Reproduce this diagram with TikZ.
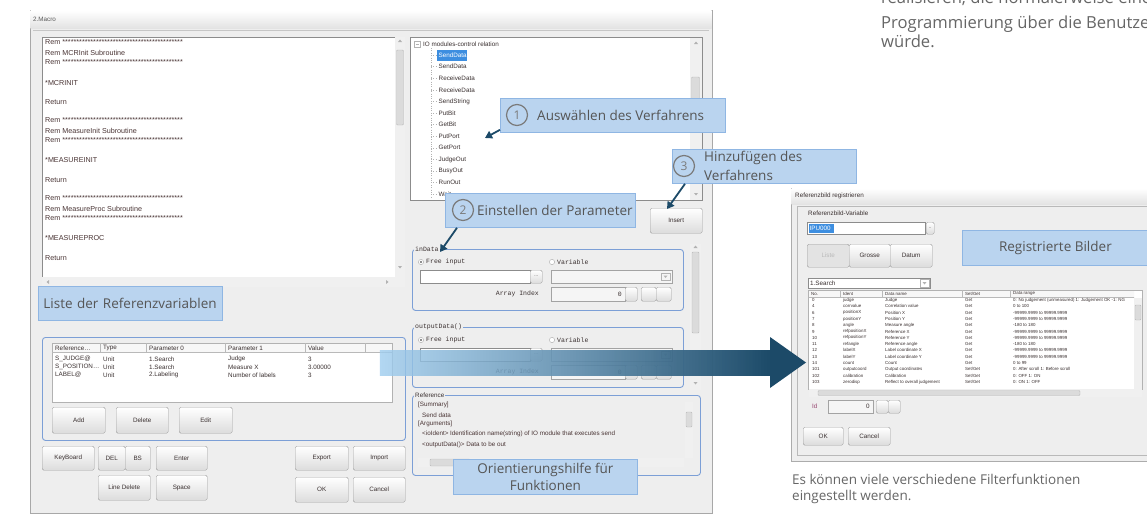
\documentclass[tikz,border=0pt]{standalone}
\usepackage{fontspec}
\setmainfont{Open Sans}
\newfontfamily\uifont{Liberation Sans}
\newfontfamily\uimono{Liberation Mono}
\usetikzlibrary{arrows.meta,fadings,calc}

\definecolor{winbg}{HTML}{EEEEEE}
\definecolor{winedge}{HTML}{A8A8A8}
\definecolor{callfill}{HTML}{BAD4EF}
\definecolor{calledge}{HTML}{8FB6E3}
\definecolor{calltext}{HTML}{555555}
\definecolor{ringcol}{HTML}{7A7A7A}
\definecolor{arrowdark}{HTML}{1C4A68}
\definecolor{bandlight}{HTML}{9FCDEF}
\definecolor{bandmid}{HTML}{4F82A8}
\definecolor{grpedge}{HTML}{7C9FD6}
\definecolor{btnedge}{HTML}{9E9E9E}
\definecolor{btnbot}{HTML}{DCDCDC}
\definecolor{fieldedge}{HTML}{8C8C8C}
\definecolor{uitext}{HTML}{3A3030}
\definecolor{codetext}{HTML}{4A3535}
\definecolor{selblue}{HTML}{3D8EE0}
\definecolor{captext}{HTML}{666666}

\newcommand\callsize{\fontsize{13.5}{17}\selectfont}
\newcommand\uis{\uifont\fontsize{6.3}{7}\selectfont}
\newcommand\uic{\uifont\fontsize{7.2}{8}\selectfont}
\newcommand\uim{\uimono\fontsize{6.5}{7}\selectfont}
\newcommand\uit{\uifont\fontsize{4.4}{5}\selectfont}
\newcommand\starrow{*******************************************}

\tikzfading[name=bandfade, left color=transparent!20, right color=transparent!0]

\begin{document}
\begin{tikzpicture}[x=1pt,y=-1pt,
  sz/.style 2 args={minimum width=#1, minimum height=#2},
  box/.style={anchor=north west, inner sep=0pt},
  callout/.style={box, draw=calledge, fill=callfill, line width=0.8pt, text=calltext, font=\callsize},
  calltxt/.style={text=calltext, font=\callsize, inner sep=0pt},
  numring/.style={circle, draw=ringcol, line width=1.2pt, minimum size=21pt, inner sep=0pt, text=ringcol, font=\fontsize{12}{12}\selectfont},
  pointer/.style={draw=arrowdark, line width=1.8pt, -{Triangle[length=7pt,width=8pt]}},
  btn/.style={box, draw=btnedge, rounded corners=1.5pt, top color=white, bottom color=btnbot, font=\uis, text=uitext},
  grp/.style={box, draw=grpedge, rounded corners=3pt, line width=0.9pt},
  grplabel/.style={anchor=west, fill=winbg, inner sep=1pt, font=\uim, text=uitext},
  field/.style={box, draw=fieldedge, fill=white},
  dfield/.style={box, draw=fieldedge!80, fill=gray!8},
  ui/.style={anchor=west, inner sep=0pt, font=\uis, text=uitext},
  codeline/.style={anchor=west, inner sep=0pt, font=\uic, text=codetext},
  mono/.style={anchor=west, inner sep=0pt, font=\uim, text=uitext},
  tinytext/.style={anchor=west, inner sep=0pt, font=\uit, text=uitext},
  scrolltrack/.style={fill=gray!12},
  thumb/.style={fill=gray!28, draw=gray!55, rounded corners=1pt},
]
\useasboundingbox (0,0) rectangle (1147,514);
\fill[white] (0,0) rectangle (1147,514);
\begin{scope}
\clip (0,0) rectangle (1147,514);

% ---------- running text, top right ----------
\begin{scope}[every node/.style={anchor=base west, inner sep=0pt, text=captext, font=\fontsize{16.6}{19}\selectfont}]
\node (intro1) at (881,4) {realisieren, die normalerweise eine};
\node (intro2) at (881,28) {Programmierung über die Benutzeroberfläche};
\node (intro3) at (881,47) {würde.};
\end{scope}

% ---------- macro editor window ----------
\node[box, draw=winedge, fill=winbg, sz={682}{503}] (win) at (30,10) {};
\shade[top color=white, bottom color=gray!22] (30.5,10.5) rectangle (711.5,28);
\node[ui, text=gray!70!black] (wtitle) at (33,19) {2.Macro};
\draw[gray!45] (33,30) -- (709,30);

% code listing
\node[field, sz={353}{240}] (code) at (42,37) {};
\foreach \yy/\ctxt in {42/Rem \starrow, 53/Rem MCRInit Subroutine, 62/Rem \starrow,
    83/*MCRINIT, 102/Return, 120/Rem \starrow, 131/Rem MeasureInit Subroutine,
    140/Rem \starrow, 160/*MEASUREINIT, 180/Return, 198/Rem \starrow,
    209/Rem MeasureProc Subroutine, 218/Rem \starrow, 238/*MEASUREPROC, 258/Return}
  \node[codeline] at (45,\yy) {\ctxt};
\fill[scrolltrack] (395,37) rectangle (405,287);
\draw[thumb] (396.5,50) rectangle (403.5,125);
\fill[gray!60] (398,42) -- (402,42) -- (400,39.5) -- cycle;
\fill[gray!60] (398,266) -- (402,266) -- (400,268.5) -- cycle;
\fill[scrolltrack] (42,277) rectangle (395,287);
\fill[gray!60] (49,280) -- (49,284) -- (46.5,282) -- cycle;
\fill[gray!60] (386,280) -- (386,284) -- (388.5,282) -- cycle;

% reference variable table
\node[grp, sz={363}{103}] (refgrp) at (42,337) {};
\node[field, draw=gray!60, sz={340}{59}] (reftab) at (52,343) {};
\fill[gray!6] (52.5,343.5) rectangle (391.5,352);
\draw[gray!55] (52,352) -- (392,352);
\foreach \xx in {100,146,225,305,365} \draw[gray!55] (\xx,343) -- (\xx,352);
\node[ui] (h1) at (55,348) {Reference\ldots};
\node[ui] (h2) at (103,348) {Type};
\node[ui] (h3) at (149,348) {Parameter 0};
\node[ui] (h4) at (228,348) {Parameter 1};
\node[ui] (h5) at (308,348) {Value};
\node[ui] (ra1) at (55,359) {S\_JUDGE@};
\node[ui] (rb1) at (103,359) {Unit};
\node[ui] (rc1) at (149,359) {1.Search};
\node[ui] (rd1) at (228,359) {Judge};
\node[ui] (re1) at (308,359) {3};
\node[ui] (ra2) at (55,367) {S\_POSITION\ldots};
\node[ui] (rb2) at (103,367) {Unit};
\node[ui] (rc2) at (149,367) {1.Search};
\node[ui] (rd2) at (228,367) {Measure X};
\node[ui] (re2) at (308,367) {3.00000};
\node[ui] (ra3) at (55,375) {LABEL@};
\node[ui] (rb3) at (103,375) {Unit};
\node[ui] (rc3) at (149,375) {2.Labeling};
\node[ui] (rd3) at (228,375) {Number of labels};
\node[ui] (re3) at (308,375) {3};
\node[btn, sz={53}{26}] (add) at (52,407) {Add};
\node[btn, sz={52}{26}] (del) at (116,407) {Delete};
\node[btn, sz={53}{26}] (edit) at (179,407) {Edit};

% keyboard and dialog buttons
\node[btn, sz={52}{24}] (kbd) at (42,446) {KeyBoard};
\node[btn, sz={27}{24}] (delkey) at (98,446) {DEL};
\node[btn, sz={25}{24}] (bskey) at (125,446) {BS};
\node[btn, sz={51}{24}] (enter) at (156,446) {Enter};
\node[btn, sz={53}{24}] (export) at (295,446) {Export};
\node[btn, sz={52}{24}] (import) at (353,446) {Import};
\node[btn, sz={52}{25}] (linedel) at (98,475) {Line Delete};
\node[btn, sz={51}{25}] (space) at (156,475) {Space};
\node[btn, sz={53}{25}] (ok) at (295,477) {OK};
\node[btn, sz={52}{25}] (cancel) at (353,477) {Cancel};

% function tree
\node[field, sz={292}{163}] (tree) at (410,37) {};
\fill[scrolltrack] (690,37.5) rectangle (701.5,199.5);
\draw[thumb] (691.5,77) rectangle (699.5,110);
\fill[gray!60] (694,44) -- (698,44) -- (696,41.5) -- cycle;
\fill[gray!60] (694,193) -- (698,193) -- (696,195.5) -- cycle;
\draw[gray!60, fill=white] (414,41) rectangle (420,47);
\draw[gray!60] (415.5,44) -- (418.5,44);
\node[ui] (root) at (423,44) {IO modules-control relation};
\draw[gray!60, dotted] (431,48) -- (431,199);
\fill[selblue] (437,49.5) rectangle (467,60.5);
\draw[gray!60, dotted] (431,55) -- (436,55);
\node[ui, text=white] (item1) at (438.5,55) {SendData};
\foreach \itm [count=\i from 2] in {SendData,ReceiveData,ReceiveData,SendString,PutBit,GetBit,PutPort,GetPort,JudgeOut,BusyOut,RunOut,Wait} {
  \pgfmathsetmacro\yy{55+(\i-1)*11.6}
  \draw[gray!60, dotted] (431,\yy) -- (436,\yy);
  \node[ui] (item\i) at (438.5,\yy) {\itm};
}

\node[btn, sz={52}{25}] (ins) at (650,208) {Insert};

% argument groups
\node[grp, sz={271}{61}] (indata) at (412,249) {};
\node[grplabel] (indatal) at (414,249) {inData};
\node[grp, sz={271}{60}] (outdata) at (412,327) {};
\node[grplabel] (outdatal) at (414,327) {outputData()};
\foreach \top in {249,327} {
  \pgfmathsetmacro\ya{\top+13}
  \pgfmathsetmacro\yb{\top+21}
  \pgfmathsetmacro\yc{\top+45}
  \pgfmathsetmacro\yd{\top+38}
  \pgfmathsetmacro\ye{\top+24}
  \pgfmathsetmacro\yf{\top+31}
  \pgfmathsetmacro\yg{\top+26.5}
  \pgfmathsetmacro\yh{\top+29}
  \draw[gray!70, fill=white] (421,\ya) circle (2.6);
  \fill[gray!80!black] (421,\ya) circle (1.2);
  \node[mono] at (426,\ya) {Free input};
  \draw[gray!70, fill=white] (552,\ya) circle (2.6);
  \node[mono] at (557,\ya) {Variable};
  \node[field, sz={110}{13}] at (420,\yb) {};
  \node[btn, sz={12}{13}, font=\uit] at (530,\yb) {...};
  \node[dfield, sz={121}{13}] at (551,\yb) {};
  \draw[gray!60] (661,\ye) rectangle (670,\yf);
  \fill[gray!60] (663.5,\yg) -- (667.5,\yg) -- (665.5,\yh) -- cycle;
  \node[mono, anchor=east] at (539,\yc) {Array Index};
  \node[dfield, sz={74}{14}] at (551,\yd) {};
  \node[mono, anchor=east] at (622,\yc) {0};
  \node[btn, sz={12}{14}] at (625,\yd) {};
  \node[btn, sz={15}{14}] at (641,\yd) {};
  \node[btn, sz={15}{14}] at (656,\yd) {};
}
\fill[scrolltrack] (690,244) rectangle (701,390);
\draw[thumb] (692,252) rectangle (699,333);
\fill[gray!60] (693.5,248) -- (697.5,248) -- (695.5,245.5) -- cycle;
\fill[gray!60] (693.5,382) -- (697.5,382) -- (695.5,384.5) -- cycle;

% function reference
\node[grp, sz={288}{80}] (refbox) at (412,395) {};
\node[grplabel, font=\uis] (refboxl) at (414,395) {Reference};
\begin{scope}
  \clip (414,399) rectangle (684,456);
  \node[ui, text=codetext] (r1) at (418,405) {[Summary]};
  \node[ui, text=codetext] (r2) at (422,415) {Send data};
  \node[ui, text=codetext] (r3) at (418,424) {[Arguments]};
  \node[ui, text=codetext] (r4) at (422,434) {<ioIdent> Identification name(string) of IO module that executes send};
  \node[ui, text=codetext] (r5) at (422,445) {<outputData()> Data to be out};
\end{scope}
\fill[scrolltrack] (685,402) rectangle (693,458);
\draw[thumb] (686,412) rectangle (692,427);
\fill[scrolltrack] (418,458) rectangle (684,467);
\draw[thumb] (430,459) rectangle (470,466);

% ---------- reference image dialog ----------
\node[box, draw=gray!65, fill=winbg, sz={360}{273}] (dlg) at (791,188) {};
\shade[top color=white, bottom color=gray!22] (791.5,188.5) rectangle (1147,204);
\node[tinytext, font=\uis] (dlgtitle) at (795,196) {Referenzbild registrieren};
\draw[gray!55] (797,206) rectangle (1150,455);
\node[tinytext, font=\uis] (varlbl) at (808,213) {Referenzbild-Variable};
\node[field, sz={118}{12}] (varfield) at (807,222) {};
\fill[selblue] (808.5,223.5) rectangle (834,232.5);
\node[tinytext, font=\uis, text=white] (varname) at (809.5,228) {IPU000};
\node[btn, sz={8}{12}, font=\uit] (varbtn) at (926,222) {..};
\node[btn, sz={42}{23}, top color=gray!22, bottom color=gray!22, text=gray!55] (bliste) at (807,244) {Liste};
\node[btn, sz={41}{23}] (bgross) at (849,244) {Grosse};
\node[btn, sz={42}{23}] (bdatum) at (890,244) {Datum};
\node[field, sz={122}{10}] (seldrop) at (808,278) {};
\node[tinytext, font=\uis] (seltxt) at (810,283) {1.Search};
\draw[gray!60] (920,279.5) rectangle (929,287);
\fill[gray!60] (922.5,282) -- (926.5,282) -- (924.5,284.5) -- cycle;

\node[field, draw=gray!60, sz={334}{99}] (imgtab) at (808,290) {};
\begin{scope}
  \clip (808.5,290.5) rectangle (1134,389);
  \fill[gray!6] (808.5,290.5) rectangle (1141.5,297);
  \draw[gray!55] (808,297) -- (1142,297);
  \foreach \xx in {840,882,962,1010} \draw[gray!55] (\xx,290) -- (\xx,297);
  \node[tinytext] at (811,293.7) {No.};
  \node[tinytext] at (843,293.7) {Ident};
  \node[tinytext] at (885,293.7) {Data name};
  \node[tinytext] at (965,293.7) {Set/Get};
  \node[tinytext] at (1013,293.7) {Data range};
  \foreach \v [count=\i] in {0,4,6,7,8,9,10,11,12,13,14,101,102,103}
    \node[tinytext] at (812,{300+(\i-1)*6.3}) {\v};
  \foreach \v [count=\i] in {judge,corrvalue,positionX,positionY,angle,refpositionX,refpositionY,refangle,labelX,labelY,count,outputcoord,calibration,zerodisp}
    \node[tinytext] at (843,{300+(\i-1)*6.3}) {\v};
  \foreach \v [count=\i] in {Judge,Correlation value,Position X,Position Y,Measure angle,Reference X,Reference Y,Reference angle,Label coordinate X,Label coordinate Y,Count,Output coordinates,Calibration,Reflect to overall judgement}
    \node[tinytext] at (885,{300+(\i-1)*6.3}) {\v};
  \foreach \v [count=\i] in {Get,Get,Get,Get,Get,Get,Get,Get,Get,Get,Get,Set/Get,Set/Get,Set/Get}
    \node[tinytext] at (965,{300+(\i-1)*6.3}) {\v};
  \foreach \v [count=\i] in {0: No judgement (unmeasured) 1: Judgement OK -1: NG,
      0 to 100,-99999.9999 to 99999.9999,-99999.9999 to 99999.9999,-180 to 180,
      -99999.9999 to 99999.9999,-99999.9999 to 99999.9999,-180 to 180,
      -99999.9999 to 99999.9999,-99999.9999 to 99999.9999,0 to 99,
      0: After scroll 1: Before scroll,0: OFF 1: ON,0: ON 1: OFF}
    \node[tinytext] at (1013,{300+(\i-1)*6.3}) {\v};
\end{scope}
\fill[scrolltrack] (1134,297.5) rectangle (1141.5,388.5);
\draw[thumb] (1135,305) rectangle (1141,320);
\fill[scrolltrack] (808.5,389) rectangle (1141.5,397);
\draw[thumb] (818,390.5) rectangle (1080,395.5);

\node[tinytext, font=\uis, text=magenta!55!black] (idlbl) at (812,406) {Id};
\node[dfield, sz={45}{13}] (idfield) at (828,400) {};
\node[tinytext, font=\uis] at (866,406.5) {0};
\node[btn, sz={12}{13}] (idup) at (876,400) {};
\node[btn, sz={12}{13}] (iddn) at (888,400) {};
\node[btn, sz={40}{18}] (dok) at (803,427) {OK};
\node[btn, sz={42}{18}] (dcancel) at (848,427) {Cancel};

\node[anchor=base west, inner sep=0pt, text=captext, font=\fontsize{13.5}{17}\selectfont] (cap1) at (792,484.5) {Es können viele verschiedene Filterfunktionen};
\node[anchor=base west, inner sep=0pt, text=captext, font=\fontsize{13.5}{17}\selectfont] (cap2) at (792,500.5) {eingestellt werden.};

% ---------- transfer arrow ----------
\coordinate (bandstart) at (380,362.5);
\coordinate (bandtip) at (806,362.5);
\shade[left color=bandlight, middle color=bandmid, right color=arrowdark, path fading=bandfade]
  ($(bandstart)+(0,-12.5)$) rectangle ($(bandtip)+(-35,12.5)$);
\fill[arrowdark] ($(bandtip)+(-36,-25.5)$) -- (bandtip) -- ($(bandtip)+(-36,25.5)$) -- cycle;

% ---------- callouts ----------
\node[callout, sz={184}{34}, inner xsep=5pt, text width=174pt, align=left] (liste) at (38,286) {Liste der Referenzvariablen};

\node[callout, sz={225}{34}] (c1) at (500,98) {};
\node[numring] (n1) at (517,115) {1};
\node[calltxt, anchor=west] (t1) at (537,115) {Auswählen des Verfahrens};

\node[callout, sz={184}{34}] (c3) at (672,149) {};
\node[numring] (n3) at (684,166) {3};
\node[calltxt, anchor=west, align=left, font=\fontsize{13.5}{19.5}\selectfont] (t3) at (704,166) {Hinzufügen des\\Verfahrens};

\node[callout, sz={190}{34}] (c2) at (445,193) {};
\node[numring] (n2) at (463,210) {2};
\node[calltxt, anchor=west] (t2) at (477,210) {Einstellen der Parameter};

\node[callout, sz={184}{35}, align=center, font=\fontsize{13.5}{17.5}\selectfont] (orient) at (453,459) {Orientierungshilfe für\\Funktionen};

\node[callout, sz={186}{35}] (regb) at (962,230) {Registrierte Bilder};

% pointers from the numbered steps
\coordinate (p1) at (485,138);
\draw[pointer] ([yshift=3pt]c1.south west) -- (p1);
\draw[pointer] ([xshift=13pt]c3.south west) -- ([xshift=17pt,yshift=-1pt]ins.north west);
\draw[pointer] ([xshift=12pt]c2.south west) -- ([xshift=28pt,yshift=-3pt]indata.north west);

\end{scope}
\end{tikzpicture}
\end{document}
